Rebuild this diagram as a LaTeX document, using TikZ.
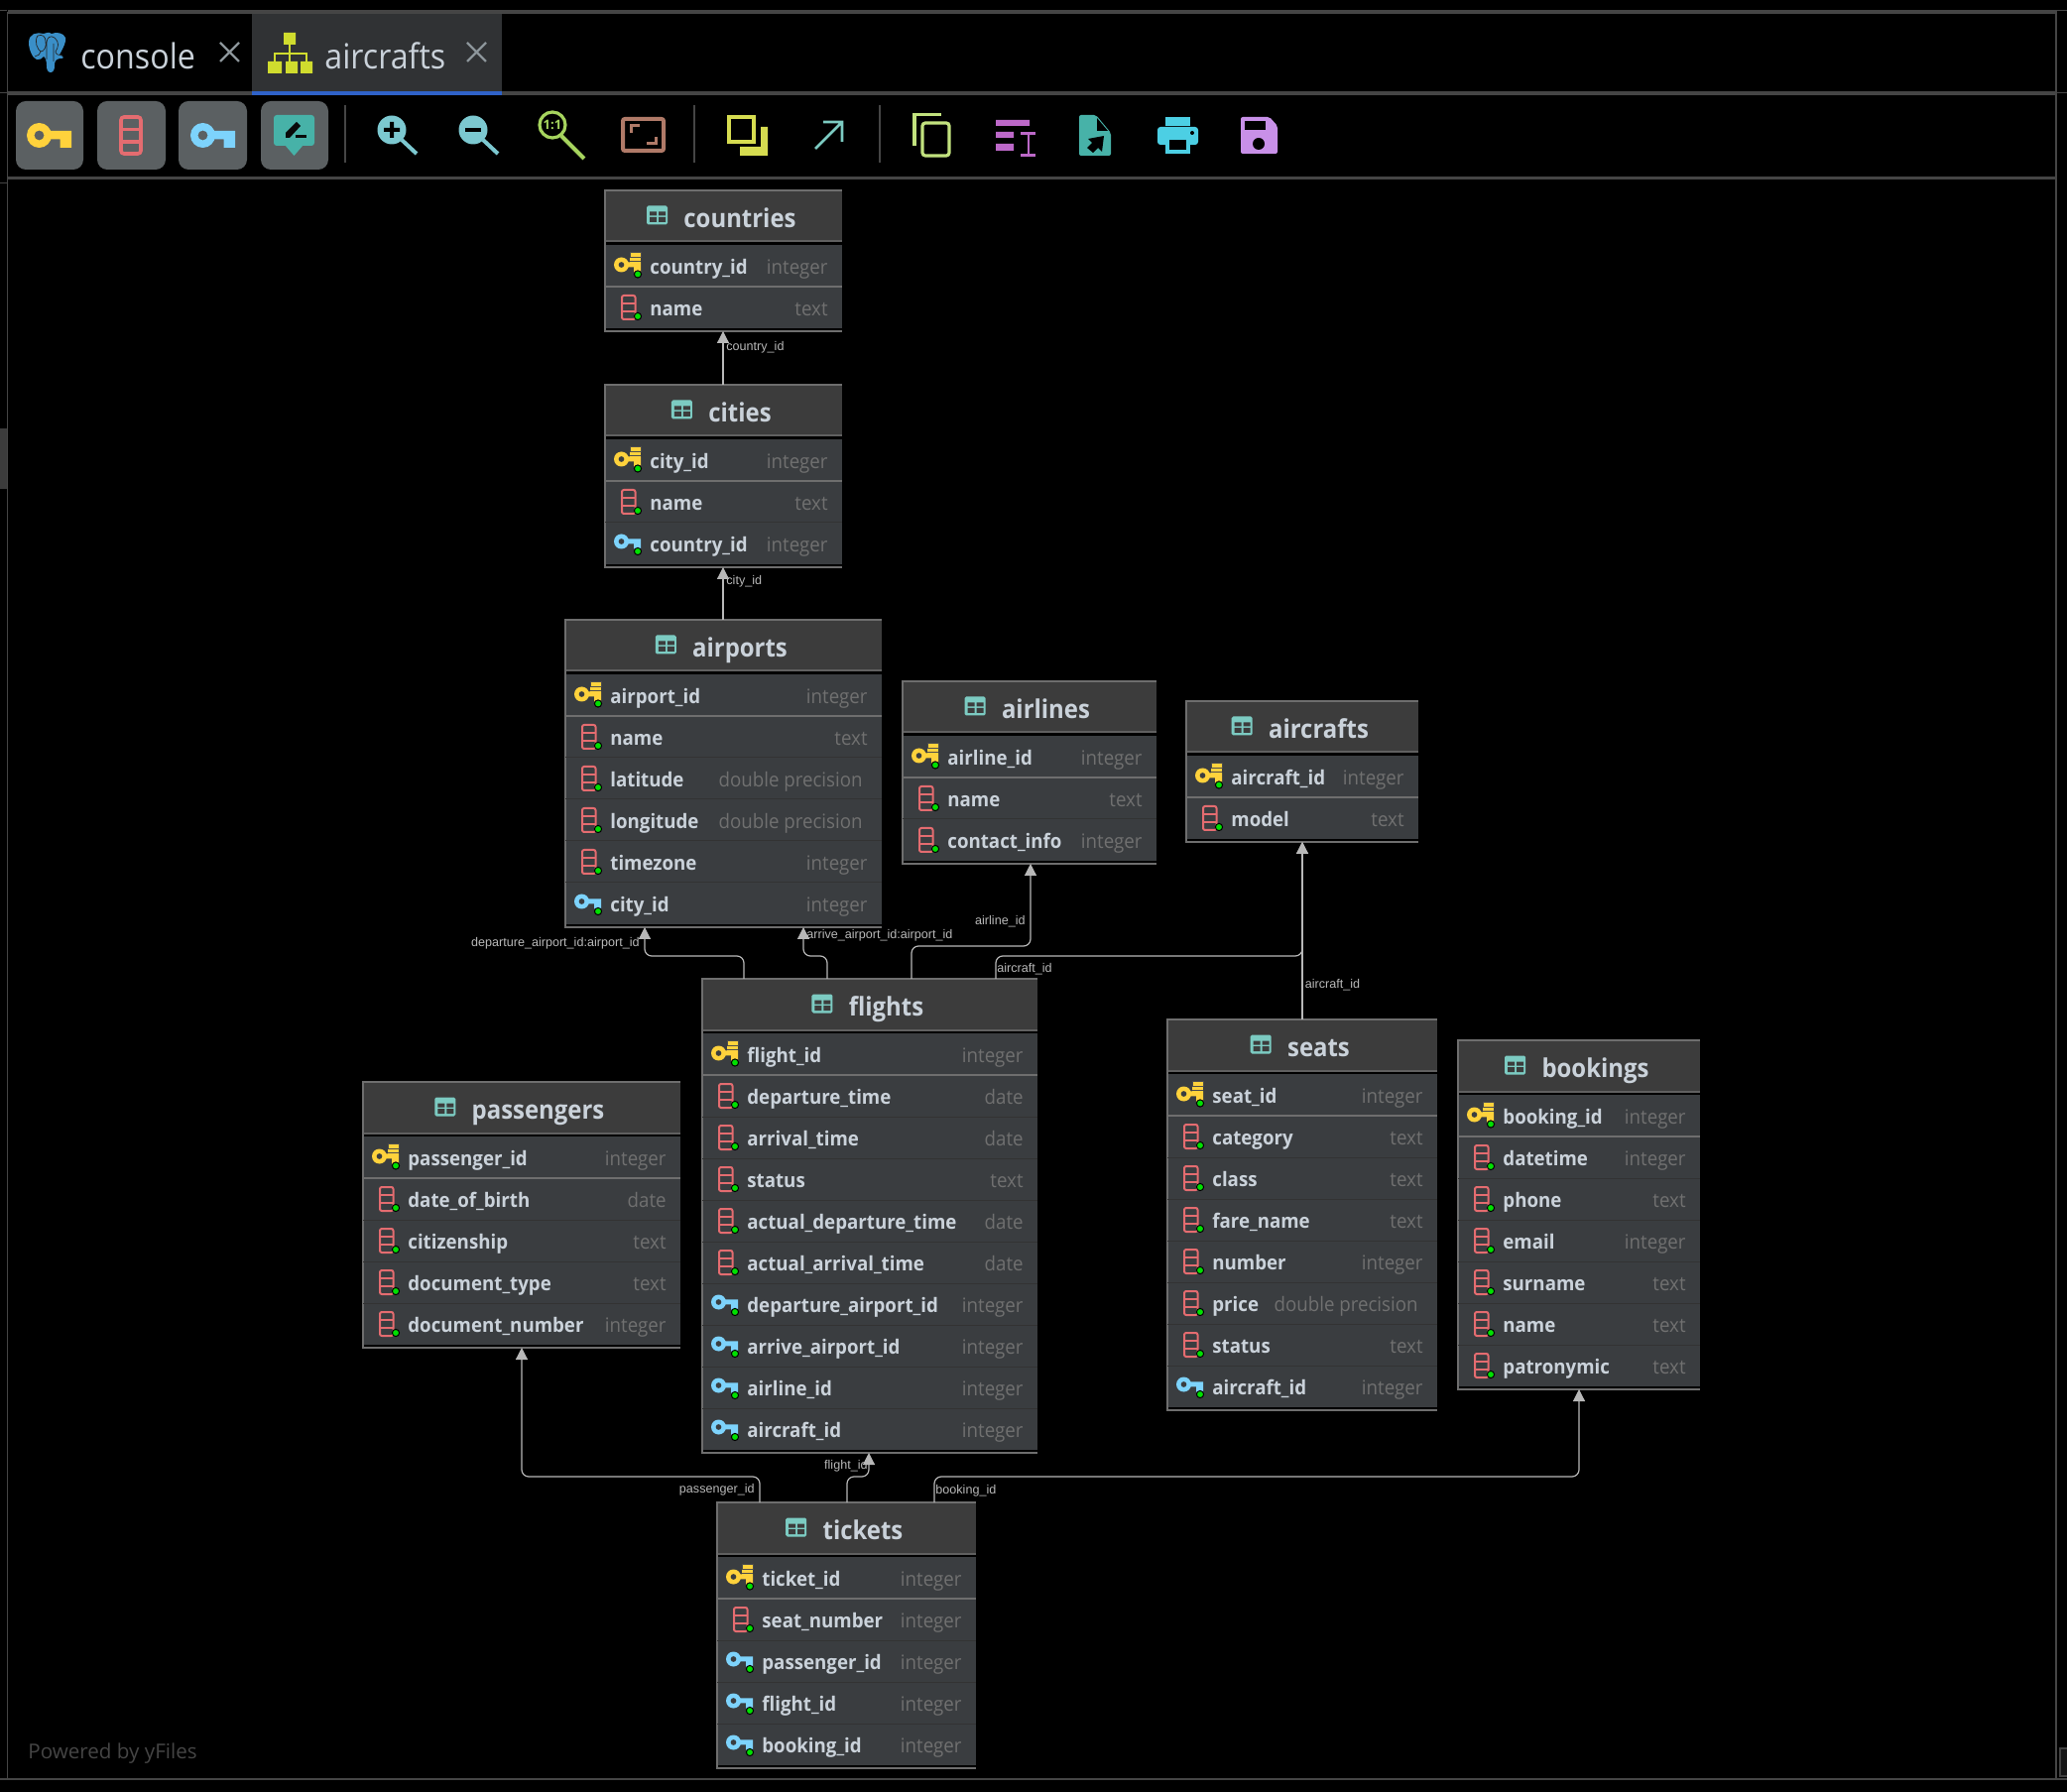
\documentclass[tikz,border=0pt]{standalone}
\usepackage{fontspec}
\usetikzlibrary{arrows.meta,calc}
\newfontfamily\uifont{Open Sans}
\newfontfamily\rowfont[FakeStretch=0.935]{Open Sans}
\newfontfamily\titlefont[FakeStretch=0.92]{Open Sans}
\newfontfamily\tabfont[FakeStretch=0.92]{Open Sans}
\newfontfamily\lblfont{Liberation Sans}
\definecolor{chrome}{HTML}{454545}
\definecolor{tabbg}{HTML}{303234}
\definecolor{tabblue}{HTML}{2F62C8}
\definecolor{btn}{HTML}{5B6062}
\definecolor{gold}{HTML}{FFD23C}
\definecolor{redcol}{HTML}{E46C70}
\definecolor{bluekey}{HTML}{7DD3FC}
\definecolor{teal}{HTML}{47B2A8}
\definecolor{tealicon}{HTML}{7CCBC2}
\definecolor{zoomblue}{HTML}{7CC8D0}
\definecolor{lime}{HTML}{A6D45E}
\definecolor{brownish}{HTML}{B07A68}
\definecolor{yel}{HTML}{D6DC50}
\definecolor{copygreen}{HTML}{C2E27E}
\definecolor{purp}{HTML}{BC68C8}
\definecolor{cyanp}{HTML}{4CCFE4}
\definecolor{savep}{HTML}{C890E8}
\definecolor{pgblue}{HTML}{3A8FC8}
\definecolor{hier}{HTML}{D0DC2E}
\definecolor{titlebg}{HTML}{3C3C3C}
\definecolor{rowbg}{HTML}{3A3D40}
\definecolor{edgegray}{HTML}{6E6E6E}
\definecolor{txt}{HTML}{CAD2DA}
\definecolor{typetxt}{HTML}{707070}
\definecolor{conncol}{HTML}{B8B8B8}
\definecolor{dotgreen}{HTML}{00E000}
\tikzset{
  tablebox/.style={fill=titlebg,inner sep=0pt,outer sep=0pt,anchor=north west},
  tabletitle/.style={anchor=base,inner sep=0pt,text=txt,font=\titlefont\bfseries\fontsize{13}{15}\selectfont},
  rowname/.style={anchor=base west,inner sep=0pt,text=txt,font=\rowfont\bfseries\fontsize{10}{12}\selectfont},
  rowtype/.style={anchor=base east,inner sep=0pt,text=typetxt,font=\rowfont\fontsize{10}{12}\selectfont},
  conn/.style={draw=conncol,line width=.6pt,rounded corners=3.5pt},
  arrowconn/.style={conn,-{Triangle[length=6pt,width=6pt,fill=conncol]}},
  edgelabel/.style={inner sep=0pt,text=conncol,font=\lblfont\fontsize{6.3}{7}\selectfont},
  tabtext/.style={inner sep=0pt,anchor=base west,text=txt,font=\tabfont\fontsize{17.5}{22}\selectfont},
  chromeline/.style={draw=chrome,line width=1pt},
  closex/.style={draw=#1,line width=1.2pt},
}
\newcommand{\keyshape}[1]{%
  \fill[#1,even odd rule] (0,0) circle (12.5) (0,0) circle (5);
  \fill[#1] (10,-4.5) -- (32.5,-4.5) -- (32.5,12.5) -- (21,12.5) -- (21,4) -- (10,4) -- cycle;
}
\newcommand{\greendot}[2]{\draw[black,fill=dotgreen,line width=.5pt] (#1,#2) circle (3.6);}
\newcommand{\columnicon}{%
  \draw[redcol,line width=1pt,rounded corners=1pt] (17,9) rectangle (30.5,33);
  \draw[redcol,line width=1pt] (17,17) -- (30.5,17) (17,25) -- (30.5,25);
  \greendot{33}{30}
}
\newcommand{\iconk}{%
  \begin{scope}[shift={(16.5,20)},scale=.6]\keyshape{gold}\end{scope}
  \fill[gold] (25,7) rectangle (36,20);
  \draw[black!70,line width=.4pt] (25,7) rectangle (36,12) (25,12) -- (36,12) (25,16.5) -- (36,16.5);
  \greendot{33}{29.5}
}
\newcommand{\iconc}{\columnicon}
\newcommand{\iconf}{%
  \begin{scope}[shift={(16.5,19)},scale=.6]\keyshape{bluekey}\end{scope}
  \greendot{33}{29}
}
\newcommand{\dblprec}{double precision\hspace*{2.5pt}}
% name, x0, x1, top, title, rows
\newcommand{\ertable}[6]{%
  \pgfmathsetmacro\tw{(#3-#2)*0.5}
  \foreach \rowkind/\rowlabel/\rowkindtxt [count=\ri] in {#6} {\global\let\rowcount\ri}
  \pgfmathsetmacro\th{(58+42*\rowcount)*0.5}
  \pgfmathsetmacro\tbot{#4+58+42*\rowcount}
  \pgfmathsetmacro\tcx{(#2+#3)/2-2}
  \node[tablebox,minimum width=\tw pt,minimum height=\th pt] (#1) at (#2,#4) {};
  \fill[rowbg] (#2,#4+55) rectangle (#3,\tbot-3);
  \fill[edgegray!110] (#2,#4+50.5) rectangle (#3,#4+52.5);
  \fill[black] (#2,#4+52.5) rectangle (#3,#4+55);
  \fill[black] (#2,\tbot-3) rectangle (#3,\tbot-1);
  \draw[edgegray,line width=.75pt] (#3,#4) -- (#2,#4) -- (#2,\tbot) -- (#3,\tbot);
  \node[tabletitle] (#1-title) at (\tcx,#4+37.5) {\hspace*{18.5pt}#5};
  \begin{scope}[shift={(#1-title.base west)}]
    \fill[tealicon,rounded corners=.8pt] (0,-22) rectangle (21,-3);
    \fill[titlebg] (3,-16) rectangle (10,-12) (12,-16) rectangle (19,-12) (3,-10.5) rectangle (10,-5.5) (12,-10.5) rectangle (19,-5.5);
  \end{scope}
  \foreach \rowkind/\rowlabel/\rowkindtxt [count=\ri] in {#6} {
    \pgfmathsetmacro\rt{#4+55+42*(\ri-1)}
    \ifnum\ri=2 \draw[edgegray,line width=.6pt] (#2,\rt) -- (#3,\rt);\fi
    \ifnum\ri>2 \draw[black!80,line width=.5pt] (#2,\rt) -- (#3,\rt);\fi
    \node[rowname] (#1-n\ri) at (#2+45,\rt+29.5) {\rowlabel};
    \node[rowtype] (#1-t\ri) at (#3-14,\rt+29.5) {\rowkindtxt};
    \begin{scope}[shift={(#2,\rt)}]\csname icon\rowkind\endcsname\end{scope}
  }
}
% source node, dx, target node, dx, bus y
\newcommand{\routed}[5]{%
  \coordinate (rs) at ($(#1.north west)+(#2,0)$);
  \coordinate (rt) at ($(#3.south west)+(#4,0)$);
  \coordinate (rb) at (0,#5);
  \draw[arrowconn] (rs) -- (rs|-rb) -- (rt|-rb) -- (rt);
}
\newcommand{\straight}[4]{%
  \coordinate (rs) at ($(#1.north west)+(#2,0)$);
  \coordinate (rt) at ($(#3.south west)+(#4,0)$);
  \draw[arrowconn] (rs) -- (rt);
}
\begin{document}
\begin{tikzpicture}[x=.5pt,y=-.5pt]
\useasboundingbox (0,0) rectangle (2084,1807);
\fill[black] (0,0) rectangle (2084,1807);
% --- chrome
\fill[tabbg] (254,14) rectangle (506,92);
\draw[chromeline,line width=1.6pt] (8,12) -- (2073,12);
\draw[chromeline,line width=1.6pt] (8,94) -- (2073,94);
\fill[tabblue] (254,92) rectangle (506,96);
\draw[chromeline,line width=1.3pt] (8,179.5) -- (2073,179.5);
\draw[chromeline,line width=.8pt] (7.5,12) -- (7.5,1794);
\draw[chromeline] (0,1794) -- (2084,1794);
\draw[chromeline] (2073,11) -- (2073,1794);
\draw[chromeline,line width=.5pt] (0,11) -- (7,11) (0,94) -- (7,94) (0,185) -- (7,185) (2073,11) -- (2084,11) (2073,94) -- (2084,94);
\fill[titlebg] (0,432) rectangle (7,493);
\fill[black!75] (2076,1762) rectangle (2084,1792);
\fill[titlebg!120] (2078,1764) rectangle (2084,1790);
% elephant
\fill[pgblue] (44,34) .. controls (37,32) and (29,34) .. (29,43) .. controls (29,50) and (33,59) .. (37,60) .. controls (40,61) and (42,59) .. (44,57)
 .. controls (46,58) and (47,62) .. (47,66) .. controls (47,70) and (48,73) .. (51,73) .. controls (54,73) and (55,70) .. (55,66) .. controls (55,62) and (56,60) .. (60,59) .. controls (64,59) and (66,58) .. (60,55)
 .. controls (64,48) and (67,42) .. (66,38) .. controls (64,33) and (57,32) .. (52,34) .. controls (49,32) and (47,33) .. (44,34) -- cycle;
\draw[black!85,line width=.35pt] (38,36) .. controls (34,42) and (38,50) .. (41,52) .. controls (45,52) and (47,46) .. (46,42) .. controls (46,37) and (43,34) .. (38,36)
 (55,38) .. controls (51,35) and (47,38) .. (47,43) (55,38) .. controls (60,42) and (59,48) .. (56,52) (41,52) .. controls (41,55) and (38,56) .. (35,57) (56,52) .. controls (56,55) and (60,56) .. (63,56) (47,43) -- (47,60) (54,44) -- (54,62);
% hierarchy
\fill[hier] (286,33) rectangle (298,45) (270,62) rectangle (284,74) (288,62) rectangle (300,74) (303,62) rectangle (315,74);
\draw[hier,line width=1.1pt] (292,45) -- (292,62) (277,62) -- (277,54) -- (309,54) -- (309,62);
\node[tabtext] (tabconsole) at (81,69.5) {console};
\node[tabtext] (tabaircrafts) at (327,69.5) {aircrafts};
\draw[closex=gray!90!cyan] (222,43) -- (241,62) (222,62) -- (241,43);
\draw[closex=gray!90!cyan] (471,43) -- (490,62) (471,62) -- (490,43);
% --- toolbar buttons
\fill[btn,rounded corners=5pt] (16,102) rectangle (84,171);
\fill[btn,rounded corners=5pt] (98,102) rectangle (167,171);
\fill[btn,rounded corners=5pt] (180,102) rectangle (249,171);
\fill[btn,rounded corners=5pt] (263,102) rectangle (331,171);
\begin{scope}[shift={(39.5,136.5)}]\keyshape{gold}\end{scope}
\begin{scope}[shift={(204.5,136.5)}]\keyshape{bluekey}\end{scope}
\draw[redcol,line width=1.8pt,rounded corners=1.5pt] (122,118) rectangle (142,155);
\draw[redcol,line width=1.8pt] (122,130.5) -- (142,130.5) (122,143) -- (142,143);
\fill[teal,rounded corners=1.5pt] (276,116) rectangle (317,147);
\fill[teal] (287,146) -- (306,146) -- (296.5,157) -- cycle;
\fill[btn!10!black] (288,134) -- (299,123) -- (303,127) -- (292,139) -- (288,139) -- cycle;
\fill[btn!10!black] (298,136) rectangle (309,139);
\draw[chromeline,line width=.7pt] (348,106) -- (348,164);
\draw[chromeline,line width=.7pt] (700,106) -- (700,164);
\draw[chromeline,line width=.7pt] (887,106) -- (887,164);
% zoom in
\fill[zoomblue] (395,131) circle (14.5);
\draw[zoomblue,line width=2pt] (405,141) -- (420,155);
\fill[black] (393,123) rectangle (397,139) (387,129) rectangle (403,133);
% zoom out
\fill[zoomblue] (477,131) circle (14.5);
\draw[zoomblue,line width=2pt] (487,141) -- (502,155);
\fill[black] (469,129) rectangle (485,133);
% 1:1
\draw[lime,line width=1.6pt] (557,126) circle (13);
\draw[lime,line width=2pt] (566,137) -- (589,160);
\node[inner sep=0pt,text=lime,font=\uifont\bfseries\fontsize{6.5}{7}\selectfont] (onetoone) at (557,126) {1:1};
% fit
\draw[brownish,line width=2pt,rounded corners=1pt] (628,120) rectangle (669,152);
\draw[brownish,line width=1.5pt] (636,134) -- (636,127) -- (645,127) (661,138) -- (661,145) -- (652,145);
% layers
\draw[yel,line width=2pt] (735,118) rectangle (760,143);
\fill[yel] (767,128) -- (774,128) -- (774,157) -- (746,157) -- (746,148) -- (767,148) -- cycle;
% arrow
\draw[tealicon,line width=1.4pt] (822,150) -- (849,123) (830,123) -- (849,123) -- (849,143);
% copy
\draw[copygreen,line width=1.6pt] (922,147) -- (922,115.5) -- (949,115.5);
\draw[copygreen,line width=1.6pt,rounded corners=1.5pt] (930,124) rectangle (957,157);
% text list
\fill[purp] (1004,121) rectangle (1038,127) (1004,133) rectangle (1022,139) (1004,145) rectangle (1022,152);
\draw[purp,line width=1.3pt] (1029,134.5) -- (1044,134.5) (1029,156.5) -- (1044,156.5) (1037,134.5) -- (1037,156.5);
% file
\fill[teal,rounded corners=1pt] (1088,116) -- (1105,116) -- (1120,134) -- (1120,157) -- (1088,157) -- cycle;
\fill[black] (1106,119) -- (1106,132) -- (1117,132) -- cycle;
\fill[black] (1113,137) -- (1097,140) -- (1101,144) -- (1096,149) -- (1102,154) -- (1107,149) -- (1111,153) -- cycle;
% printer
\fill[cyanp] (1175,118) rectangle (1200,127);
\fill[cyanp,rounded corners=1.5pt] (1167,128) rectangle (1208,146);
\fill[cyanp] (1175,140) rectangle (1200,155);
\fill[black] (1179,141) rectangle (1196,151);
\fill[black] (1202,134) circle (2);
% save
\fill[savep,rounded corners=1pt] (1251,118) -- (1280,118) -- (1288,127) -- (1288,155) -- (1251,155) -- cycle;
\fill[black] (1255,122) rectangle (1276,131);
\fill[black] (1269,145) circle (6);
% --- tables
\ertable{countries}{610}{849}{192}{countries}{k/country\_id/integer,c/name/text}
\ertable{cities}{610}{849}{388}{cities}{k/city\_id/integer,c/name/text,f/country\_id/integer}
\ertable{airports}{570}{889}{625}{airports}{k/airport\_id/integer,c/name/text,c/latitude/\dblprec,c/longitude/\dblprec,c/timezone/integer,f/city\_id/integer}
\ertable{airlines}{910}{1166}{687}{airlines}{k/airline\_id/integer,c/name/text,c/contact\_info/integer}
\ertable{aircrafts}{1196}{1430}{707}{aircrafts}{k/aircraft\_id/integer,c/model/text}
\ertable{flights}{708}{1046}{987}{flights}{k/flight\_id/integer,c/departure\_time/date,c/arrival\_time/date,c/status/text,c/actual\_departure\_time/date,c/actual\_arrival\_time/date,f/departure\_airport\_id/integer,f/arrive\_airport\_id/integer,f/airline\_id/integer,f/aircraft\_id/integer}
\ertable{seats}{1177}{1449}{1028}{seats}{k/seat\_id/integer,c/category/text,c/class/text,c/fare\_name/text,c/number/integer,c/price/\dblprec,c/status/text,f/aircraft\_id/integer}
\ertable{bookings}{1470}{1714}{1049}{bookings}{k/booking\_id/integer,c/datetime/integer,c/phone/text,c/email/integer,c/surname/text,c/name/text,c/patronymic/text}
\ertable{passengers}{366}{686}{1091}{passengers}{k/passenger\_id/integer,c/date\_of\_birth/date,c/citizenship/text,c/document\_type/text,c/document\_number/integer}
\ertable{tickets}{723}{984}{1515}{tickets}{k/ticket\_id/integer,c/seat\_number/integer,f/passenger\_id/integer,f/flight\_id/integer,f/booking\_id/integer}
% --- connectors
\straight{cities}{119}{countries}{119}
\straight{airports}{159}{cities}{119}
\routed{flights}{42}{airports}{80}{964}
\routed{flights}{126}{airports}{240}{964}
\routed{flights}{211}{airlines}{129}{954}
\routed{flights}{296}{aircrafts}{117}{964}
\straight{seats}{136}{aircrafts}{117}
\routed{tickets}{43}{passengers}{160}{1489}
\routed{tickets}{131}{flights}{168}{1489}
\routed{tickets}{219}{bookings}{122}{1489}
% --- connector labels
\node[edgelabel,anchor=mid west] (lcountry) at (732,349) {country\_id};
\node[edgelabel,anchor=mid west] (lcity) at (732,585) {city\_id};
\node[edgelabel,anchor=mid east] (ldep) at (645,950) {departure\_airport\_id:airport\_id};
\node[edgelabel,anchor=mid west] (larr) at (813,942) {arrive\_airport\_id:airport\_id};
\node[edgelabel,anchor=mid east] (lairline) at (1034,928) {airline\_id};
\node[edgelabel,anchor=mid west] (lair1) at (1005,976) {aircraft\_id};
\node[edgelabel,anchor=mid west] (lair2) at (1315.5,992) {aircraft\_id};
\node[edgelabel,anchor=mid east] (lpax) at (761,1501) {passenger\_id};
\node[edgelabel,anchor=mid east] (lflight) at (875,1477) {flight\_id};
\node[edgelabel,anchor=mid west] (lbook) at (943,1502) {booking\_id};
\node[inner sep=0pt,anchor=base west,text=chrome,font=\uifont\fontsize{10.3}{12}\selectfont] (powered) at (28,1773) {Powered by yFiles};
\end{tikzpicture}
\end{document}
